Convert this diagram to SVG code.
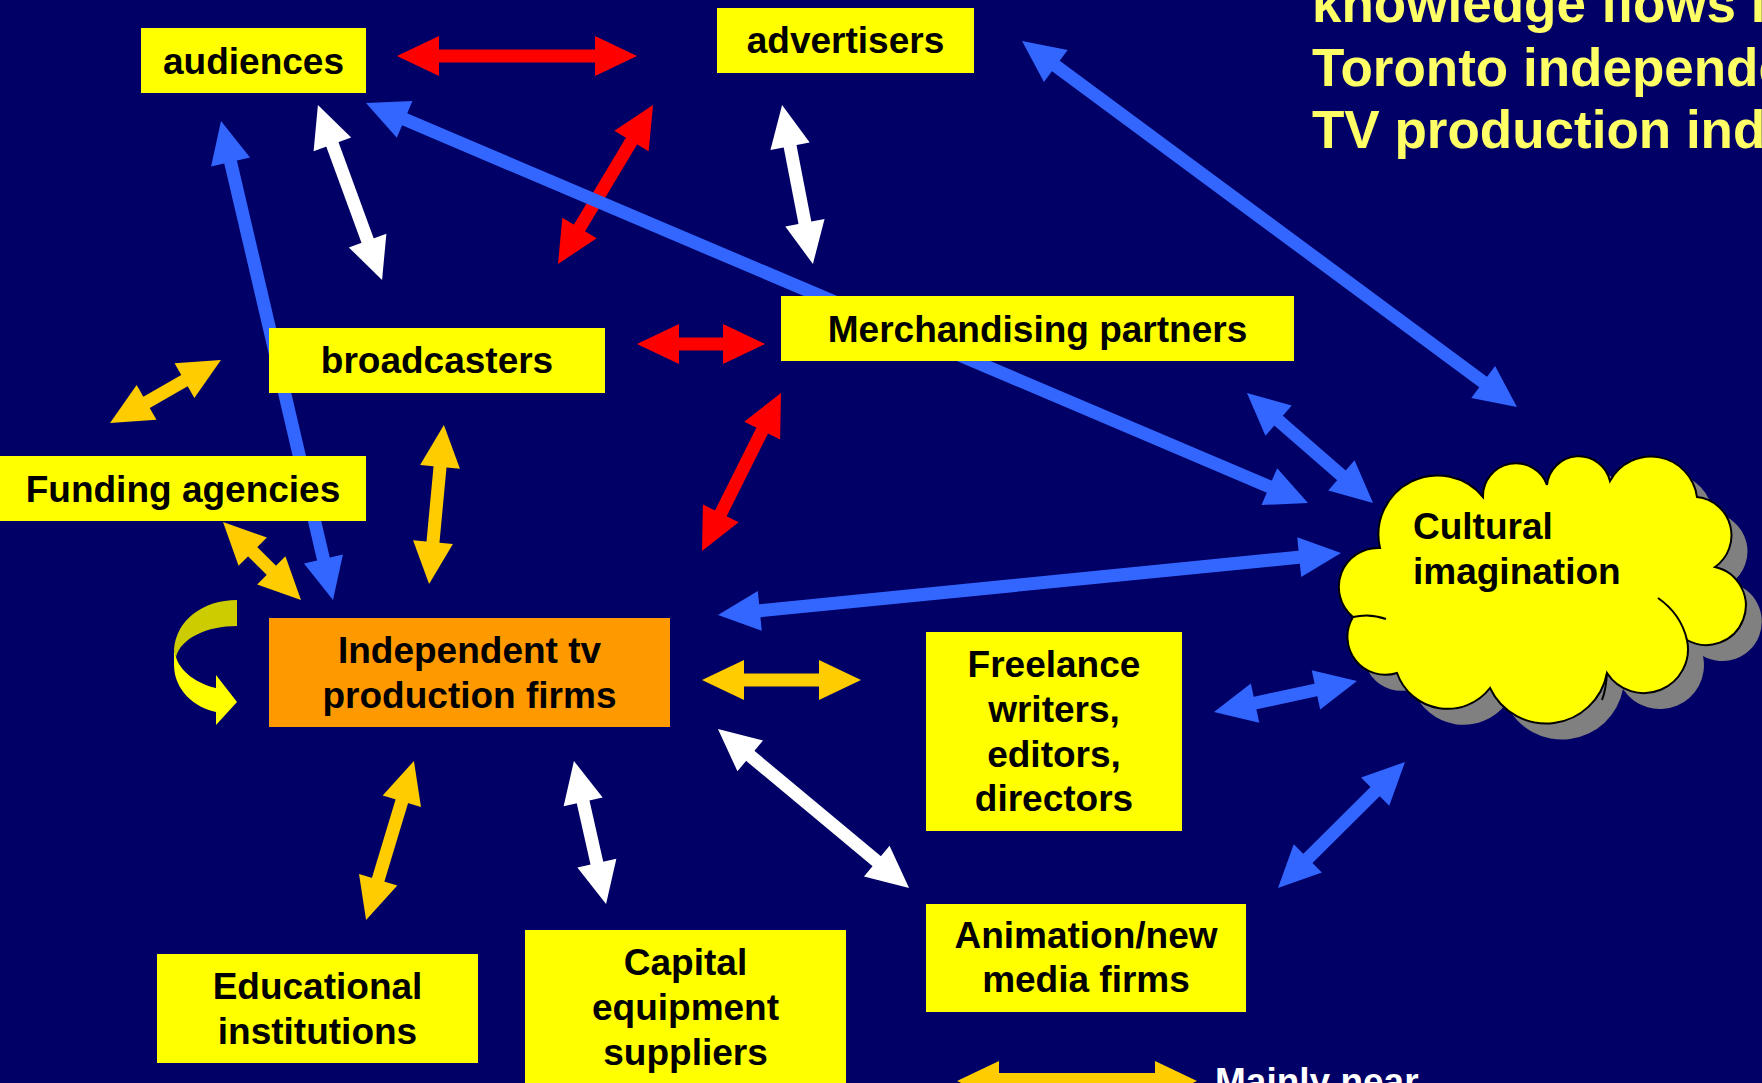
<svg xmlns="http://www.w3.org/2000/svg" width="1762" height="1083" viewBox="0 0 1762 1083">
<style>
.nt{font-family:"Liberation Sans",Arial,sans-serif;font-weight:bold;font-size:37px;fill:#000;text-anchor:middle}
.ct{font-family:"Liberation Sans",Arial,sans-serif;font-weight:bold;font-size:37px;fill:#000}
.tt{font-family:"Liberation Sans",Arial,sans-serif;font-weight:bold;font-size:53px;fill:#FFFF66}
.lt{font-family:"Liberation Sans",Arial,sans-serif;font-weight:bold;font-size:37px;fill:#FFFFFF}
.box{fill:#FFFF00}
.r{stroke:#FF0000;stroke-width:13;fill:none;marker-start:url(#mr);marker-end:url(#mr)}
.b{stroke:#3366FF;stroke-width:13;fill:none;marker-start:url(#mb);marker-end:url(#mb)}
.w{stroke:#FFFFFF;stroke-width:13;fill:none;marker-start:url(#mw);marker-end:url(#mw)}
.o{stroke:#FFCC00;stroke-width:13;fill:none;marker-start:url(#mo);marker-end:url(#mo)}
</style>
<defs>
<marker id="mr" viewBox="-3 -21 44 42" refX="0" refY="0" markerWidth="44" markerHeight="42" markerUnits="userSpaceOnUse" orient="auto-start-reverse"><path d="M-2,-20 L40,0 L-2,20 Z" fill="#FF0000"/></marker>
<marker id="mb" viewBox="-3 -21 44 42" refX="0" refY="0" markerWidth="44" markerHeight="42" markerUnits="userSpaceOnUse" orient="auto-start-reverse"><path d="M-2,-20 L40,0 L-2,20 Z" fill="#3366FF"/></marker>
<marker id="mw" viewBox="-3 -21 44 42" refX="0" refY="0" markerWidth="44" markerHeight="42" markerUnits="userSpaceOnUse" orient="auto-start-reverse"><path d="M-2,-20 L40,0 L-2,20 Z" fill="#FFFFFF"/></marker>
<marker id="mo" viewBox="-3 -21 44 42" refX="0" refY="0" markerWidth="44" markerHeight="42" markerUnits="userSpaceOnUse" orient="auto-start-reverse"><path d="M-2,-20 L40,0 L-2,20 Z" fill="#FFCC00"/></marker>
<path id="cloudShape" d="M1380,548 A59,59 0 0 1 1483,497 A33,33 0 0 1 1547,485 A32,32 0 0 1 1610,481 A46.5,46.5 0 0 1 1697,497 A38.6,38.6 0 0 1 1715,567 A39.5,39.5 0 1 1 1687,640 A44,44 0 0 1 1607,673 A62,62 0 0 1 1490,688 A53.6,53.6 0 0 1 1397,673 A38,38 0 0 1 1353,617 A39,39 0 0 1 1380,548 Z"/>
</defs>
<rect x="0" y="0" width="1762" height="1083" fill="#000066"/>

<g id="title">
<text class="tt" x="1312" y="22">knowledge flows in</text>
<text class="tt" x="1312" y="86">Toronto independent</text>
<text class="tt" x="1312" y="148">TV production industry</text>
</g>

<g id="connectors">
<line class="r" x1="437" y1="56" x2="597" y2="56"/>
<line class="r" x1="632.5" y1="139.3" x2="578.5" y2="229.7"/>
<line class="r" x1="677" y1="344" x2="725" y2="344"/>
<line class="r" x1="763.1" y1="428.8" x2="719.9" y2="515.2"/>
<line class="b" x1="402.8" y1="118.6" x2="1271.2" y2="487.4"/>
<line class="b" x1="323.9" y1="561" x2="230.1" y2="160"/>
<line class="b" x1="1054.2" y1="64.8" x2="1484.8" y2="383.2"/>
<line class="b" x1="1277.1" y1="419.3" x2="1342.9" y2="476.7"/>
<line class="b" x1="757.8" y1="611" x2="1301.2" y2="557"/>
<line class="b" x1="1253.1" y1="703.5" x2="1317.9" y2="689.5"/>
<line class="b" x1="1306.4" y1="859.8" x2="1376.6" y2="790.2"/>
<line class="w" x1="331.7" y1="142.6" x2="368.3" y2="242.4"/>
<line class="w" x1="789.7" y1="144.3" x2="805.3" y2="224.7"/>
<line class="w" x1="748.7" y1="754.6" x2="878.3" y2="862.4"/>
<line class="w" x1="582.7" y1="800" x2="597.3" y2="865"/>
<line class="o" x1="144.8" y1="403.3" x2="186.2" y2="379.7"/>
<line class="o" x1="251.3" y1="550.3" x2="272.7" y2="571.7"/>
<line class="o" x1="440.2" y1="464.8" x2="432.8" y2="544.2"/>
<line class="o" x1="742" y1="680" x2="821" y2="680"/>
<line class="o" x1="402.4" y1="799.3" x2="377.6" y2="881.7"/>
<path d="M237,600 C203,600 176,620 174,650 L176,657 C181,638 207,626 237,626 Z" fill="#CCCC00"/>
<path d="M174,650 L174,665 C174,690 195,708 216,712 L216,725 L237,702 L216,675 L216,688 C198,684 180,672 176,657 Z" fill="#FFFF00"/>
</g>

<g id="audiences"><rect class="box" x="141" y="28" width="225" height="65"/><text class="nt" x="253.5" y="74">audiences</text></g>
<g id="advertisers"><rect class="box" x="717" y="8" width="257" height="65"/><text class="nt" x="845.5" y="53">advertisers</text></g>
<g id="broadcasters"><rect class="box" x="269" y="328" width="336" height="65"/><text class="nt" x="437" y="373">broadcasters</text></g>
<g id="merchandising"><rect class="box" x="781" y="296" width="513" height="65"/><text class="nt" x="1037.5" y="342">Merchandising partners</text></g>
<g id="funding"><rect class="box" x="0" y="456" width="366" height="65"/><text class="nt" x="183" y="502">Funding agencies</text></g>
<g id="independent"><rect x="269" y="618" width="401" height="109" fill="#FF9900"/><text class="nt" x="469.5" y="663">Independent tv</text><text class="nt" x="469.5" y="708">production firms</text></g>
<g id="freelance"><rect class="box" x="926" y="632" width="256" height="199"/><text class="nt" x="1054" y="677">Freelance</text><text class="nt" x="1054" y="722">writers,</text><text class="nt" x="1054" y="767">editors,</text><text class="nt" x="1054" y="811">directors</text></g>
<g id="animation"><rect class="box" x="926" y="904" width="320" height="108"/><text class="nt" x="1086" y="948">Animation/new</text><text class="nt" x="1086" y="992">media firms</text></g>
<g id="educational"><rect class="box" x="157" y="954" width="321" height="109"/><text class="nt" x="317.5" y="999">Educational</text><text class="nt" x="317.5" y="1044">institutions</text></g>
<g id="capital"><rect class="box" x="525" y="930" width="321" height="170"/><text class="nt" x="685.5" y="975">Capital</text><text class="nt" x="685.5" y="1020">equipment</text><text class="nt" x="685.5" y="1065">suppliers</text></g>
<g id="cultural">
<use href="#cloudShape" transform="translate(16,16)" fill="#808080"/>
<use href="#cloudShape" fill="#FFFF00" stroke="#000" stroke-width="2"/>
<path d="M1353,617 Q1370,613 1386,619 M1658,598 Q1681,614 1687,640 M1607,673 Q1606,690 1602,700" fill="none" stroke="#000" stroke-width="2"/>
<text class="ct" x="1413" y="539">Cultural</text>
<text class="ct" x="1413" y="584">imagination</text>
</g>
<g id="legend">
<line class="o" x1="997" y1="1081" x2="1157" y2="1081" style="stroke-width:16"/>
<text class="lt" x="1215" y="1094">Mainly near</text>
</g>
</svg>
